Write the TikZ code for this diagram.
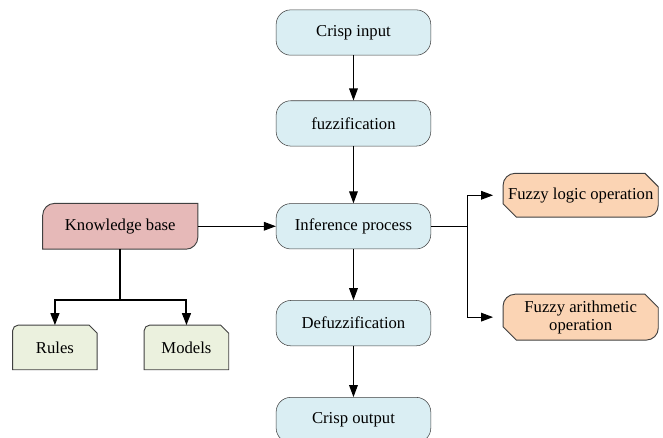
\documentclass[tikz,border=0pt]{standalone}
\usepackage{fontspec}
\setmainfont{Liberation Serif}
\usetikzlibrary{positioning,arrows.meta,backgrounds}
\definecolor{stepblue}{HTML}{DAEEF3}
\definecolor{kbred}{HTML}{E6B9B8}
\definecolor{leafgreen}{HTML}{EBF1DE}
\definecolor{oppeach}{HTML}{FBD4B4}
\definecolor{edgegray}{HTML}{404040}

\begin{document}
\begin{tikzpicture}
		\tikzset{module/.style={draw=edgegray,
								fill=stepblue,
								rectangle,
								rounded corners=11pt,
								minimum width=116pt,
								minimum height=34pt,
								inner sep=1pt,
								font=\rmfamily\fontsize{12.5}{13.5}\selectfont,
								align=center},
				 plain/.style={rectangle,
							   inner sep=1pt,
							   font=\rmfamily\fontsize{12.5}{13.5}\selectfont,
							   align=center},
				 outline/.style={draw=edgegray, line width=0.7pt},
				 arrow/.style={->,
							   >={Triangle[length=9pt,width=6.5pt]}}}
		\useasboundingbox (0,0) rectangle (497.25pt,-327.75pt);
		% Nodes
	    \node[module] (input) at (265.1pt,-24.4pt) {Crisp input};
	    \node[module, below=33.75pt of input] (fuzz) {fuzzification};
	    \node[module, below=42.75pt of fuzz] (infer) {Inference process};
	    \node[module, below=38.25pt of infer] (defuzz) {Defuzzification};
	    \node[module, below=38.25pt of defuzz] (output) {Crisp output};
	    \node[plain, minimum width=116pt, minimum height=34pt, left=58.5pt of infer] (kb) {Knowledge base};
	    \node[plain, minimum width=63pt, minimum height=33pt, below=57pt of kb, xshift=-49pt] (rules) {Rules};
	    \node[plain, minimum width=63pt, minimum height=33pt, right=35.25pt of rules] (models) {Models};
	    \node[plain, minimum width=116pt, minimum height=32.5pt, right=54pt of infer, yshift=23.25pt] (logicop) {Fuzzy logic operation};
	    \node[plain, minimum width=116pt, minimum height=34pt, below=57.75pt of logicop] (arithop) {Fuzzy arithmetic\\operation};
	    \coordinate (kbsplit) at ([yshift=-38.25pt]kb.south);
	    \coordinate (opsplit) at ([xshift=27pt]infer.east);
	    
	    % Shapes
	    \begin{scope}[on background layer]
	    \filldraw[outline, fill=kbred] (kb.south west) -- ([yshift=-9pt]kb.north west)
	        arc[start angle=180, end angle=90, radius=9pt] -- (kb.north east)
	        -- ([yshift=9pt]kb.south east) arc[start angle=0, end angle=-90, radius=9pt] -- cycle;
	    \foreach \leaf in {rules,models}
	        \filldraw[outline, fill=leafgreen] (\leaf.south west) -- ([yshift=-4pt]\leaf.north west)
	            arc[start angle=180, end angle=90, radius=4pt] -- ([xshift=-6pt]\leaf.north east)
	            -- ([yshift=-6pt]\leaf.north east) -- (\leaf.south east) -- cycle;
	    \foreach \op in {logicop,arithop}
	        \filldraw[outline, fill=oppeach] ([yshift=10pt]\op.south west) -- ([yshift=-9pt]\op.north west)
	            arc[start angle=180, end angle=90, radius=9pt] -- ([xshift=-10pt]\op.north east)
	            -- ([yshift=-10pt]\op.north east) -- ([yshift=9pt]\op.south east)
	            arc[start angle=0, end angle=-90, radius=9pt] -- ([xshift=10pt]\op.south west) -- cycle;
	    \end{scope}
	    
	    % Arrows
	    \draw[arrow, line width=0.8pt] (input) -- (fuzz);
	    \draw[arrow, line width=0.8pt] (fuzz) -- (infer);
	    \draw[arrow, line width=0.8pt] (infer) -- (defuzz);
	    \draw[arrow, line width=0.8pt] (defuzz) -- (output);
	    \draw[arrow, line width=0.8pt] (kb.east) -- (infer.west);
	    \draw[line width=1.5pt] (kb.south) -- (kbsplit);
	    \draw[arrow, line width=1.5pt] (kbsplit) -| (rules.north);
	    \draw[arrow, line width=1.5pt] (kbsplit) -| (models.north);
	    \draw[line width=0.8pt] (infer.east) -- (opsplit);
	    \draw[arrow, line width=0.8pt, shorten >=7.5pt] (opsplit) |- (logicop.west);
	    \draw[arrow, line width=0.8pt, shorten >=7.5pt] (opsplit) |- (arithop.west);
	\end{tikzpicture}
\end{document}
